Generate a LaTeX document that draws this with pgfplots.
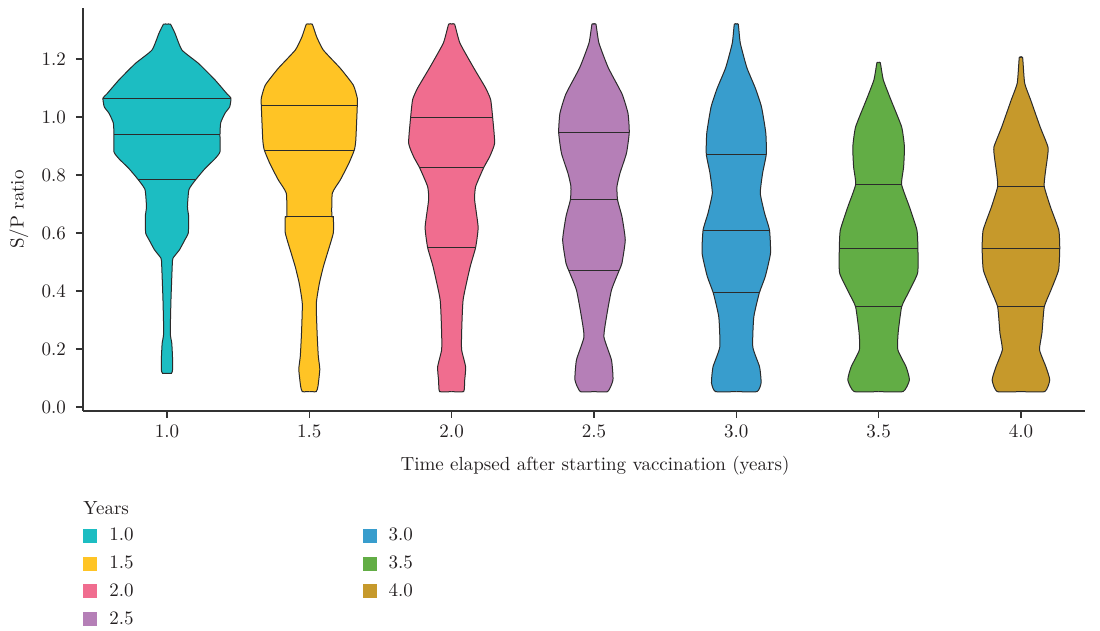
\documentclass[border=0pt]{standalone}
\usepackage{pgfplots}
\pgfplotsset{compat=1.18}
\usepackage{pgfplotstable}
\usepgfplotslibrary{fillbetween}

\definecolor{c1}{HTML}{1CBDC2}
\definecolor{c2}{HTML}{FFC425}
\definecolor{c3}{HTML}{F06D8F}
\definecolor{c4}{HTML}{B57FB7}
\definecolor{c5}{HTML}{389DCD}
\definecolor{c6}{HTML}{62AD45}
\definecolor{c7}{HTML}{C6992B}
\definecolor{vline}{HTML}{2B2B2B}
\definecolor{axcol}{HTML}{333333}
\definecolor{txt}{HTML}{231F20}

% violin profiles: y value, half width (in px of the reference, 284.6 px = 1 x-unit)
\pgfplotstableread{
y w
0.116 0
0.116 4.5
0.13 5.7
0.175 5.5
0.22 4.8
0.255 3.3
0.37 4
0.49 5.3
0.513 6
0.542 12.5
0.577 18
0.6 21.3
0.656 21.7
0.69 20.5
0.75 22
0.785 29
0.822 38
0.856 48
0.88 53
0.94 53
0.98 53.7
1.013 58
1.035 62.7
1.065 64
1.08 60
1.128 48
1.185 31.5
1.231 15
1.289 8
1.32 3.5
1.32 0
}\vA
\pgfplotstableread{
y w
0.053 0
0.053 7
0.072 8.7
0.13 10.5
0.175 9
0.255 7.8
0.356 7
0.425 10
0.483 14
0.529 18
0.6 24
0.656 24
0.656 22.5
0.737 23
0.783 31
0.84 39.5
0.886 45
0.92 46.5
1.04 48
1.065 48
1.11 44
1.168 31
1.231 14
1.277 7.3
1.32 3
1.32 0
}\vB
\pgfplotstableread{
y w
0.053 0
0.053 12
0.09 13
0.138 14
0.197 10
0.255 10
0.37 11.5
0.483 18.5
0.55 24
0.62 26.5
0.714 23
0.76 24
0.825 32
0.863 38
0.91 43
0.999 41
1.06 39
1.10 34
1.17 22
1.255 8.3
1.32 3
1.32 0
}\vC
\pgfplotstableread{
y w
0.053 0
0.053 13.7
0.093 19
0.162 17.5
0.241 10
0.31 12.5
0.403 17.5
0.469 25
0.496 28
0.576 31.3
0.656 28
0.714 23.6
0.76 23
0.806 26
0.875 32.5
0.947 35.3
1.013 34
1.08 28
1.17 14.3
1.255 5
1.32 2
1.32 0
}\vD
\pgfplotstableread{
y w
0.053 0
0.053 20.8
0.083 24.8
0.138 23.3
0.207 16.5
0.31 17.5
0.393 23
0.45 29
0.53 34.2
0.61 33.2
0.668 28.3
0.737 24
0.806 26.3
0.872 30
0.945 29.5
1.035 25.2
1.10 19
1.17 10.6
1.255 4
1.32 2
1.32 0
}\vE
\pgfplotstableread{
y w
0.053 0
0.053 24.5
0.093 30.8
0.138 27.5
0.197 19.2
0.255 19.5
0.345 23
0.393 29.6
0.462 39
0.545 39.3
0.61 38.3
0.69 30.8
0.767 23
0.828 25
0.897 25.8
0.966 23
1.059 12.3
1.128 4.7
1.187 1.7
1.187 0
}\vF
\pgfplotstableread{
y w
0.053 0
0.053 23.8
0.093 28.8
0.138 25
0.197 18.6
0.255 21
0.345 23.3
0.403 30
0.472 37.6
0.547 38.8
0.61 37.8
0.69 29.5
0.76 23.3
0.806 24.3
0.862 26.5
0.897 27
0.966 19.2
1.059 9.7
1.117 3.7
1.205 1.7
1.205 0
}\vG
% quartile lines: centre, side, value, half width (px)
\pgfplotstableread{
c s q w
1.0 -1 1.065 64
1.0 1 1.065 64
nan nan nan nan
1.0 -1 0.94 53
1.0 1 0.94 53
nan nan nan nan
1.0 -1 0.785 29
1.0 1 0.785 29
nan nan nan nan
1.5 -1 1.04 48
1.5 1 1.04 48
nan nan nan nan
1.5 -1 0.886 45
1.5 1 0.886 45
nan nan nan nan
1.5 -1 0.656 24
1.5 1 0.656 24
nan nan nan nan
2.0 -1 0.999 41
2.0 1 0.999 41
nan nan nan nan
2.0 -1 0.825 32
2.0 1 0.825 32
nan nan nan nan
2.0 -1 0.55 24
2.0 1 0.55 24
nan nan nan nan
2.5 -1 0.947 35.3
2.5 1 0.947 35.3
nan nan nan nan
2.5 -1 0.714 23.6
2.5 1 0.714 23.6
nan nan nan nan
2.5 -1 0.469 25
2.5 1 0.469 25
nan nan nan nan
3.0 -1 0.872 30
3.0 1 0.872 30
nan nan nan nan
3.0 -1 0.61 33.2
3.0 1 0.61 33.2
nan nan nan nan
3.0 -1 0.393 23
3.0 1 0.393 23
nan nan nan nan
3.5 -1 0.767 23
3.5 1 0.767 23
nan nan nan nan
3.5 -1 0.545 39.3
3.5 1 0.545 39.3
nan nan nan nan
3.5 -1 0.345 23
3.5 1 0.345 23
nan nan nan nan
4.0 -1 0.76 23.3
4.0 1 0.76 23.3
nan nan nan nan
4.0 -1 0.547 38.8
4.0 1 0.547 38.8
nan nan nan nan
4.0 -1 0.345 23.3
4.0 1 0.345 23.3
}\quart

\newcommand{\violin}[4]{%
  \addplot[draw=none, forget plot, smooth, tension=0.3, name path=#1R] table[x expr=#2+\thisrow{w}/284.6, y=y]{#3};
  \addplot[draw=none, forget plot, smooth, tension=0.3, name path=#1L] table[x expr=#2-\thisrow{w}/284.6, y=y]{#3};
  \addplot[fill=#4, draw=none, forget plot] fill between[of=#1R and #1L, reverse=true];
  \addplot[draw=vline, line width=0.5pt, smooth, tension=0.3, forget plot] table[x expr=#2+\thisrow{w}/284.6, y=y]{#3};
  \addplot[draw=vline, line width=0.5pt, smooth, tension=0.3, forget plot] table[x expr=#2-\thisrow{w}/284.6, y=y]{#3};
}

\newcommand{\chartfont}{\fontsize{9.5}{11}\selectfont}

\begin{document}
\begin{tikzpicture}
\begin{axis}[
  at={(0,0)}, anchor=south west,
  scale only axis, width=501pt, height=201.5pt,
  xmin=0.705, xmax=4.225, ymin=-0.014, ymax=1.376,
  clip mode=individual,
  axis x line*=bottom, axis y line*=left,
  axis line style={-, draw=axcol, line width=0.6pt},
  tick style={draw=axcol, line width=0.6pt},
  tick align=outside, major tick length=3.5pt,
  xtick={1,1.5,2,2.5,3,3.5,4},
  ytick={0,0.2,0.4,0.6,0.8,1.0,1.2},
  x tick label style={/pgf/number format/.cd, fixed, fixed zerofill, precision=1, assume math mode=true, /tikz/.cd, font=\chartfont, text=txt},
  y tick label style={/pgf/number format/.cd, fixed, fixed zerofill, precision=1, assume math mode=true, /tikz/.cd, font=\chartfont, text=txt, xshift=-1.5pt},
  xlabel={Time elapsed after starting vaccination (years)},
  ylabel={S/P ratio},
  xlabel style={font=\chartfont, text=txt, at={(axis description cs:0.511,-0.1365)}, anchor=center},
  ylabel style={font=\chartfont, text=txt, at={(axis description cs:-0.0639,0.5)}, anchor=center},
  unbounded coords=jump,
  legend columns=2,
  legend cell align=left,
  legend image code/.code={\path[#1] (0pt,-3.5pt) rectangle (7pt,3.5pt);},
  legend style={draw=none, fill=none, inner sep=0pt, font=\chartfont, text=txt,
    at={(axis description cs:0,-0.28)}, anchor=north west,
    row sep=2pt,
    /tikz/every odd column/.append style={column sep=4pt},
    /tikz/every even column/.append style={column sep=112.5pt}},
]
\violin{a}{1.0}{\vA}{c1}
\violin{b}{1.5}{\vB}{c2}
\violin{c}{2.0}{\vC}{c3}
\violin{d}{2.5}{\vD}{c4}
\violin{e}{3.0}{\vE}{c5}
\violin{f}{3.5}{\vF}{c6}
\violin{g}{4.0}{\vG}{c7}
\addplot[draw=vline, line width=0.5pt, forget plot] table[x expr=\thisrow{c}+\thisrow{s}*\thisrow{w}/284.6, y=q]{\quart};

\addlegendimage{fill=c1, draw=none}\addlegendentry{1.0}
\addlegendimage{fill=c5, draw=none}\addlegendentry{3.0}
\addlegendimage{fill=c2, draw=none}\addlegendentry{1.5}
\addlegendimage{fill=c6, draw=none}\addlegendentry{3.5}
\addlegendimage{fill=c3, draw=none}\addlegendentry{2.0}
\addlegendimage{fill=c7, draw=none}\addlegendentry{4.0}
\addlegendimage{fill=c4, draw=none}\addlegendentry{2.5}

\node[font=\chartfont, text=txt, anchor=west, inner sep=0pt] at (axis description cs:0,-0.2407) {Years};
\end{axis}
\pgfresetboundingbox
\useasboundingbox (-41.5pt,-110pt) rectangle (508.5pt,205.5pt);
\end{tikzpicture}
\end{document}
